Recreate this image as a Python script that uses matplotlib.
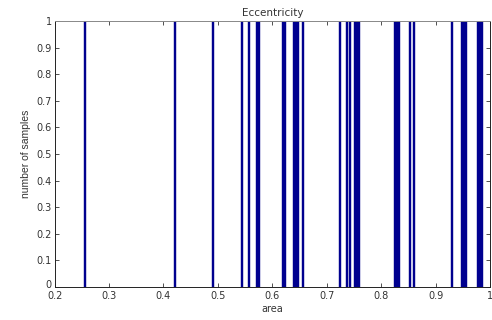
import matplotlib
matplotlib.use("Agg")
import matplotlib.pyplot as plt
from matplotlib.ticker import FuncFormatter
from matplotlib.transforms import ScaledTranslation

# histogram bins (centres), each with one sample
bin_centres = [0.2556, 0.4220, 0.4914, 0.5444, 0.5572, 0.5717, 0.5754,
               0.6202, 0.6239, 0.6403, 0.6440, 0.6477, 0.6560,
               0.7238, 0.7364, 0.7420, 0.7519, 0.7556, 0.7593,
               0.8250, 0.8287, 0.8324, 0.8535, 0.8607, 0.9296,
               0.9493, 0.9530, 0.9567, 0.9773, 0.9810, 0.9847]
counts = [1] * len(bin_centres)
bin_width = 0.0037

x_ticks = [0.2, 0.3, 0.4, 0.5, 0.6, 0.7, 0.8, 0.9, 1.0]
y_ticks = [0, 0.1, 0.2, 0.3, 0.4, 0.5, 0.6, 0.7, 0.8, 0.9, 1.0]

plt.rcParams['font.family'] = ['DejaVu Sans']
txt = '#333333'

fig = plt.figure(figsize=(4.92, 3.2), dpi=100)
ax = fig.add_axes([0.111, 0.103, 0.885, 0.831])

ax.bar(bin_centres, counts, width=bin_width, color='#00008f',
       edgecolor='#00008f', linewidth=0.3)

ax.set_xlim(0.2, 0.996)
ax.set_ylim(0, 1)
ax.set_xticks(x_ticks)
ax.set_yticks(y_ticks)
fmt = FuncFormatter(lambda v, p: '%g' % round(v, 2))
ax.xaxis.set_major_formatter(fmt)
ax.yaxis.set_major_formatter(fmt)

ax.tick_params(direction='in', top=True, right=True, length=3, width=0.6,
               labelsize=7, colors=txt)
ax.tick_params(axis='x', pad=3)
ax.tick_params(axis='y', pad=2)
for s in ax.spines.values():
    s.set_linewidth(0.7)
    s.set_color('#222222')
ax.spines['top'].set_color('#888888')

# the "0" label sits a little above the corner, like in matlab
fig.canvas.draw()
zero_lbl = ax.get_yticklabels()[0]
zero_lbl.set_transform(zero_lbl.get_transform() +
                       ScaledTranslation(0, 2 / 72, fig.dpi_scale_trans))

ax.set_title('Eccentricity', fontsize=7.5, color=txt, pad=4)
ax.set_xlabel('area', fontsize=7, color=txt, labelpad=2)
ax.set_ylabel('number of samples', fontsize=7.5, color=txt, labelpad=4,
              family='Liberation Sans')

fig.savefig('out.png', dpi=100)
